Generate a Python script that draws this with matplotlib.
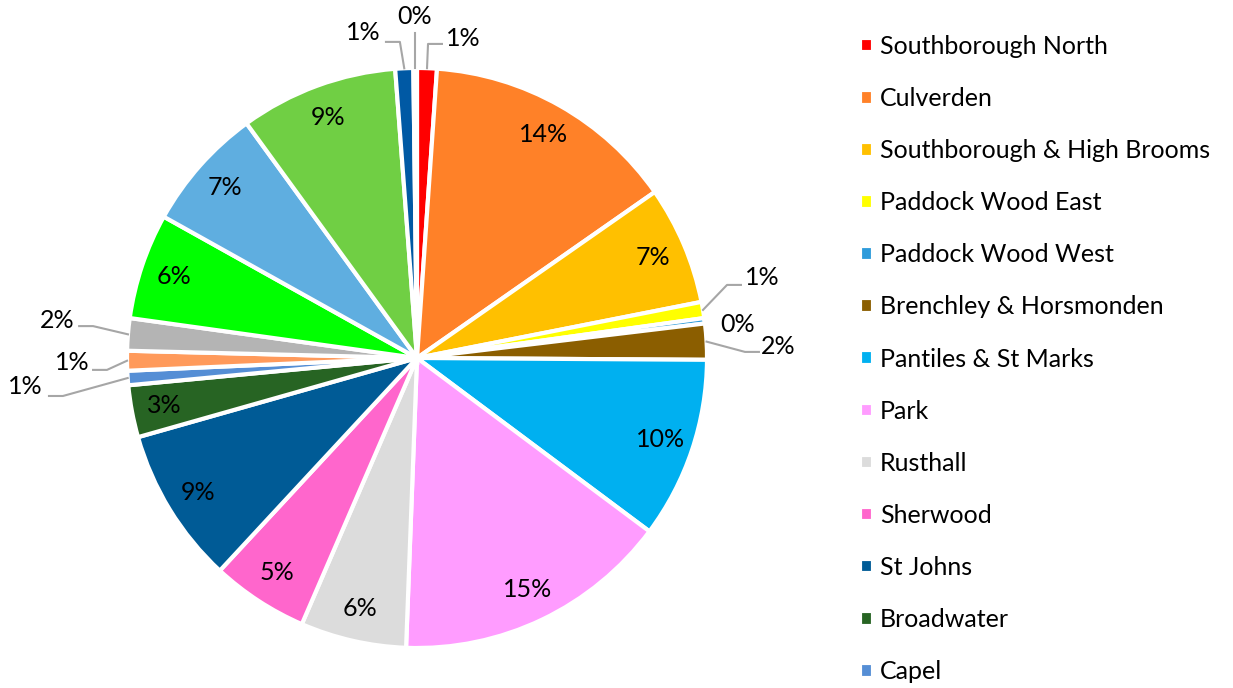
import matplotlib
matplotlib.use("Agg")
import matplotlib.pyplot as plt
import numpy as np

plt.rcParams["font.family"] = ["Lato", "DejaVu Sans"]

# ward shares in percent, clockwise from 12 o'clock
wards = [
    "Southborough North",
    "Culverden",
    "Southborough & High Brooms",
    "Paddock Wood East",
    "Paddock Wood West",
    "Brenchley & Horsmonden",
    "Pantiles & St Marks",
    "Park",
    "Rusthall",
    "Sherwood",
    "St Johns",
    "Broadwater",
    "Capel",
    "Pembury",
    "Speldhurst & Bidborough",
    "Hawkhurst & Sandhurst",
    "Benenden & Cranbrook",
    "St James'",
    "Goudhurst & Lamberhurst",
    "Frittenden & Sissinghurst",
]
shares = [1.1, 14.2, 6.6, 0.9, 0.3, 2.0, 10.1, 15.4, 5.9, 5.4,
          8.7, 2.9, 0.8, 1.1, 1.8, 5.9, 6.9, 8.8, 1.0, 0.2]
colours = [
    "#FF0000", "#FF8128", "#FFC000", "#FFFF00", "#2E9BDB",
    "#8B5E00", "#00B0F0", "#FF9CFF", "#DCDCDC", "#FF66CC",
    "#005B96", "#276423", "#558ED5", "#FF9A5B", "#B4B4B4",
    "#00FF00", "#5FAEE0", "#70CF44", "#0059A4", "#FFFFFF",
]

# small slices get their labels outside: (elbow point, text centre) in pie-radius units
outside = {
    0: ((0.038, 1.083), (0.159, 1.103)),
    19: (None, (-0.010, 1.179)),
    18: ((-0.059, 1.090), (-0.186, 1.121)),
    3: ((1.069, 0.252), (1.190, 0.276)),
    4: ("none", (1.107, 0.117)),
    5: ((1.131, 0.021), (1.245, 0.041)),
    14: ((-1.117, 0.110), (-1.241, 0.131)),
    13: ((-1.069, -0.041), (-1.190, -0.014)),
    12: ((-1.221, -0.131), (-1.352, -0.100)),
}

W, H = 1233, 688
cx, cy, R = 417, 358, 290

fig = plt.figure(figsize=(W / 100, H / 100), dpi=100)
ax = fig.add_axes([0, 0, 1, 1])

wedges, _ = ax.pie(
    shares,
    colors=colours,
    startangle=90,
    counterclock=False,
    radius=1.0,
    center=(0, 0),
    wedgeprops=dict(edgecolor="white", linewidth=3),
    frame=True,
)
ax.set_xlim(-cx / R, (W - cx) / R)
ax.set_ylim((cy - H) / R, cy / R)
ax.set_aspect("auto")
ax.axis("off")

FS = 18
leader = "#A6A6A6"
for i, w in enumerate(wedges):
    pct = shares[i] / sum(shares) * 100
    txt = f"{pct:.0f}%"
    mid = np.deg2rad((w.theta1 + w.theta2) / 2)
    if i not in outside:
        r = 0.885
        ax.text(r * np.cos(mid), r * np.sin(mid), txt, ha="center", va="center",
                fontsize=FS, color="black")
        continue
    elbow, (tx, ty) = outside[i]
    ax.text(tx, ty, txt, ha="center", va="center", fontsize=FS, color="black")
    sx, sy = np.cos(mid), np.sin(mid)
    if elbow is None:
        ax.plot([sx, sx], [sy, ty - 0.06], color=leader, lw=1.5)
    elif elbow != "none":
        ex, ey = elbow
        tail = ex + 0.048 * np.sign(tx - ex)
        ax.plot([sx, ex, tail], [sy, ey, ey], color=leader, lw=1.5)

# only the entries that fit in the figure height
n_leg = 13
fig.legend(
    wedges[:n_leg], wards[:n_leg],
    loc="upper left",
    bbox_to_anchor=(860 / W, 1 - 35 / H),
    frameon=False,
    fontsize=FS,
    handlelength=0.52,
    handleheight=0.52,
    handletextpad=0.28,
    labelspacing=1.164,
    borderpad=0,
    borderaxespad=0,
)

fig.savefig("out.png", dpi=100)
